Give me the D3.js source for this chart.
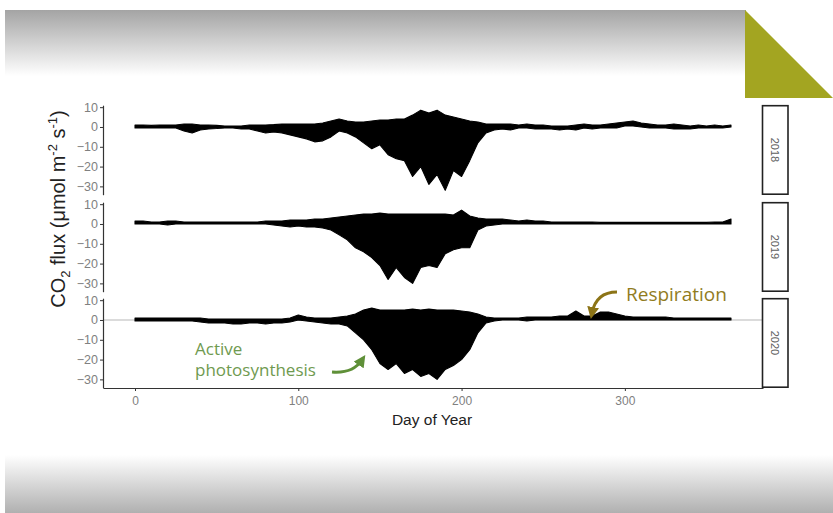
<!DOCTYPE html>
<html>
<head>
<meta charset="utf-8">
<script src="https://cdn.jsdelivr.net/npm/d3@7"></script>
<style>
  body { margin: 0; background: #fff; }
  svg { display: block; font-family: 'Liberation Sans', Arial, sans-serif; }
</style>
</head>
<body>
<div id='chart'></div>

<script>
  // sampled every 5 days, day 0 .. 365 (upper / lower envelope of half-hourly flux)
  var days = d3.range(0, 366, 5)
  var years = ['2018', '2019', '2020']

  var hi2018 = [1,1,0.8,1,1,1,1.5,1.5,1,1,0.8,0.5,0.5,0.5,1,1,1,1.2,1.5,1.5,1.5,1.5,1.5,2,3,4,3,2.5,2.5,3,3.5,3.5,4,4,6,8.5,7,8.5,6,5,4,3,2.5,1.5,1.5,1.5,1.5,1,1.5,1,1,0.5,0.5,0.5,1,1.5,1,1,1.5,2,2.5,3,2,1.5,1,1,1.5,1,0.5,1,0.5,1,0.5,1]
  var lo2018 = [-0.5,-0.5,-0.5,-0.5,-0.5,-0.5,-2,-3,-1.5,-1,-0.8,-0.5,-0.5,-1,-1,-2,-3,-2.5,-3,-4,-5,-6,-7.5,-7,-5,-2,-3,-5,-8,-11,-9,-14,-16,-17,-25,-20,-29,-24,-32,-22,-25,-17,-8,-3,-1.5,-1,-1.5,-0.5,-0.5,-1,-1,-1,-1.5,-1,-1.5,-0.5,-1,-0.5,-0.5,-0.5,0.5,0.5,0,-0.5,-0.5,-0.5,-1,-1,-1,-0.5,-0.5,-0.5,-0.5,0]

  var hi2019 = [1.5,1.5,1,1,1.5,1.5,1,1,1,1,1,1,1,1,1,1,1.5,1.5,1.5,2,2,2,2.5,2.5,3,3.5,4,4.5,5,5,5.5,5,5,5,5,5,5,5,5,4.5,7,4,3,2.5,2.5,2.5,2,1.5,2,1.5,1.5,1,1,1,1,1,1,0.8,0.8,0.8,0.8,0.8,0.8,0.8,0.8,0.8,0.8,0.8,0.8,0.8,0.8,1,1,2.5]
  var lo2019 = [0,0,0,0,-0.5,0,0,0,0,0,0,0,0,0,0,0,0,-0.5,-1,-1.5,-1,-1.5,-1.5,-2,-3,-5.5,-8,-12,-14,-17,-21,-28,-22,-27,-30,-22,-21,-22,-15,-13,-12,-12,-3,-1,-0.5,0,0,0,0,0,0,0,0,0,0,0,0,0,0,0,0,0,0,0,0,0,0,0,0,0,0,0,0,0]

  var hi2020 = [1,1,1,1,1,1,1,1,1,0.5,0.5,0.5,0.5,0.5,0.5,0.5,0.5,0.5,0.5,1,2.5,1.5,1,1,1,1.5,2,3,5,6,5,5,5,5,5.5,5,5.5,5,5,5,4.5,4,3,1.5,1,1,1,1,1.5,1.5,1.5,1.5,2,2,4.5,2,2,4,4,3,2,1.5,1.5,1.5,1.5,1.5,1,1,1,1,1,1,1,1]
  var lo2020 = [-0.5,-0.5,-0.5,-0.5,-0.5,-0.5,-0.5,-0.5,-1,-1.5,-1.5,-1.5,-2,-2,-1.5,-1.5,-2,-1.5,-1.5,-1,0,-0.5,-1,-1.5,-2,-2,-3,-6.5,-10,-15,-22,-25,-22,-27,-25,-28.5,-27,-30,-25,-23,-20,-15,-6.5,-1.5,-0.5,0,0,0,-0.5,0,0,0,0,0,0,0,0,0,0,0,0,0,0,0,0,0,0,0,0,0,0,0,0,0]

  var highs = [hi2018, hi2019, hi2020]
  var lows = [lo2018, lo2019, lo2020]

  var xTicks = [0, 100, 200, 300]
  var yTicks = [10, 0, -10, -20, -30]

  var W = 833, H = 513

  var svg = d3.select('#chart')
              .append('svg')
              .attr('width', W)
              .attr('height', H)

  var defs = svg.append('defs')
  var gTop = defs.append('linearGradient').attr('id', 'gTop').attr('x1', 0).attr('y1', 0).attr('x2', 0).attr('y2', 1)
  gTop.append('stop').attr('offset', '0%').attr('stop-color', '#a4a4a4')
  gTop.append('stop').attr('offset', '100%').attr('stop-color', '#ffffff')
  var gBot = defs.append('linearGradient').attr('id', 'gBot').attr('x1', 0).attr('y1', 0).attr('x2', 0).attr('y2', 1)
  gBot.append('stop').attr('offset', '0%').attr('stop-color', '#ffffff')
  gBot.append('stop').attr('offset', '100%').attr('stop-color', '#b0b0b0')

  // slide decoration
  svg.append('rect').attr('x', 5).attr('y', 10).attr('width', 741).attr('height', 66).attr('fill', 'url(#gTop)')
  svg.append('rect').attr('x', 5).attr('y', 455).attr('width', 828).attr('height', 58).attr('fill', 'url(#gBot)')
  svg.append('path').attr('d', 'M745,10 L745,98 L833,98 Z').attr('fill', '#a3a521')

  var x = d3.scaleLinear().domain([-19.6, 384.6]).range([103, 763])

  var panelTop = [105.2, 202.2, 298.2]
  var panelH = 89.5

  years.forEach(function(yr, i) {
    var y = d3.scaleLinear().domain([-34.2, 11]).range([panelTop[i] + panelH, panelTop[i]])
    var g = svg.append('g')

    if (i == 2) {
      g.append('line')
       .attr('x1', x.range()[0]).attr('x2', x.range()[1])
       .attr('y1', y(0)).attr('y2', y(0))
       .attr('stroke', '#b8b8b8').attr('stroke-width', 1.2)
    }

    var area = d3.area()
                 .x(function(d, k) { return x(days[k]) })
                 .y0(function(d, k) { return y(lows[i][k]) })
                 .y1(function(d) { return y(d) })

    g.append('path')
     .datum(highs[i])
     .attr('d', area)
     .attr('fill', '#000')
     .attr('stroke', '#000')
     .attr('stroke-width', 1.1)
     .attr('stroke-linejoin', 'round')

    var ax = g.append('g')
              .attr('transform', 'translate(' + x.range()[0] + ',0)')
              .attr('color', '#808080')
              .call(d3.axisLeft(y).tickValues(yTicks).tickSize(3).tickSizeOuter(0).tickPadding(2))
    ax.select('.domain').attr('stroke', '#333').attr('stroke-width', 1.2)
    ax.selectAll('.tick line').attr('stroke', '#333')
    ax.selectAll('text').attr('fill', '#808080').attr('font-size', 12.5)

    // strip
    g.append('rect')
     .attr('x', 762.5).attr('y', panelTop[i] + 0.5)
     .attr('width', 25.5).attr('height', panelH - 1)
     .attr('fill', '#fff').attr('stroke', '#222').attr('stroke-width', 1.6)
    g.append('text')
     .attr('transform', 'translate(775,' + (panelTop[i] + panelH / 2) + ') rotate(90)')
     .attr('text-anchor', 'middle')
     .attr('dy', '0.35em')
     .attr('font-size', 11)
     .attr('fill', '#606060')
     .text(yr)
  })

  var xa = svg.append('g')
              .attr('transform', 'translate(0,388)')
              .attr('color', '#808080')
              .call(d3.axisBottom(x).tickValues(xTicks).tickSize(3).tickSizeOuter(0).tickPadding(5))
  xa.select('.domain').attr('stroke', '#333').attr('stroke-width', 1.2)
  xa.selectAll('.tick line').attr('stroke', '#333')
  xa.selectAll('text').attr('fill', '#808080').attr('font-size', 12)

  svg.append('text')
     .attr('x', 432).attr('y', 425)
     .attr('text-anchor', 'middle')
     .attr('font-size', 15.5)
     .attr('fill', '#222')
     .text('Day of Year')

  var yt = svg.append('text')
              .attr('transform', 'translate(65,209) rotate(-90)')
              .attr('text-anchor', 'middle')
              .attr('font-size', 20)
              .attr('fill', '#222')
  yt.append('tspan').text('CO')
  yt.append('tspan').attr('font-size', 13).attr('dy', 5).text('2')
  yt.append('tspan').attr('dy', -5).text(' flux (\u03bcmol m')
  yt.append('tspan').attr('font-size', 13).attr('dy', -8).text('-2')
  yt.append('tspan').attr('dy', 8).text(' s')
  yt.append('tspan').attr('font-size', 13).attr('dy', -8).text('-1')
  yt.append('tspan').attr('dy', 8).text(')')

  // annotations
  defs.append('marker').attr('id', 'arrG').attr('viewBox', '0 0 10 10').attr('refX', 5).attr('refY', 5)
      .attr('markerWidth', 4).attr('markerHeight', 4).attr('orient', 'auto')
      .append('path').attr('d', 'M0,0 L10,5 L0,10 Z').attr('fill', '#8c7417')
  defs.append('marker').attr('id', 'arrP').attr('viewBox', '0 0 10 10').attr('refX', 5).attr('refY', 5)
      .attr('markerWidth', 4).attr('markerHeight', 4).attr('orient', 'auto')
      .append('path').attr('d', 'M0,0 L10,5 L0,10 Z').attr('fill', '#5f9038')

  svg.append('text')
     .attr('x', 626).attr('y', 301)
     .attr('font-family', "'Open Sans', sans-serif")
     .attr('font-size', 19)
     .attr('fill', '#917c1e')
     .text('Respiration')
  svg.append('path')
     .attr('d', 'M617,292 C604,292 595,298 592,313')
     .attr('fill', 'none').attr('stroke', '#8c7417').attr('stroke-width', 3)
     .attr('marker-end', 'url(#arrG)')

  svg.append('text')
     .attr('font-family', "'Open Sans', sans-serif")
     .attr('font-size', 17)
     .attr('fill', '#6f9a50')
     .selectAll('tspan')
     .data(['Active', 'photosynthesis'])
     .enter()
     .append('tspan')
     .attr('x', 195)
     .attr('y', function(d, k) { return 355 + k * 21 })
     .text(function(d) { return d })
  svg.append('path')
     .attr('d', 'M332,372 C345,373 356,369 362,360')
     .attr('fill', 'none').attr('stroke', '#5f9038').attr('stroke-width', 3)
     .attr('marker-end', 'url(#arrP)')
</script>
</body>
</html>
